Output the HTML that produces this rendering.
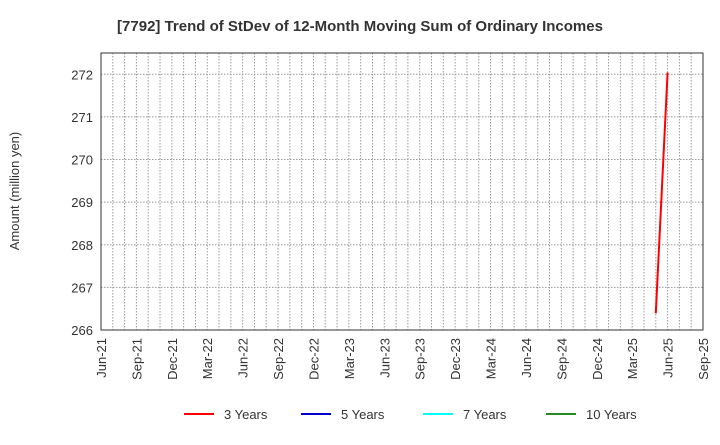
<!DOCTYPE html>
<html><head><meta charset="utf-8"><style>
body{margin:0;background:#fff;font-family:"Liberation Sans",Arial,sans-serif}
</style></head><body>
<svg width="720" height="440" xmlns="http://www.w3.org/2000/svg">
<text x="360" y="31" text-anchor="middle" font-size="15" font-weight="bold" fill="#333">[7792]  Trend of StDev of 12-Month Moving Sum of Ordinary Incomes</text>
<text transform="translate(19,191) rotate(-90)" text-anchor="middle" font-size="13" fill="#333">Amount (million yen)</text>
<g id="grid"></g>
<g id="axes"></g>
<g id="series"></g>
<rect x="101" y="53" width="602" height="277" fill="none" stroke="#333" stroke-width="1"/>
<g id="legend"></g>
</svg>
<script>
const xTickLabels=["Jun-21","Sep-21","Dec-21","Mar-22","Jun-22","Sep-22","Dec-22","Mar-23","Jun-23","Sep-23","Dec-23","Mar-24","Jun-24","Sep-24","Dec-24","Mar-25","Jun-25","Sep-25"];
const yTicks=[266,267,268,269,270,271,272];
const seriesNames=["3 Years","5 Years","7 Years","10 Years"];
const seriesColors=["#ff0000","#0000cc","#00ffff","#228b22"];
const months3y=[47,48]; // months since Jun-21
const values3y=[266.39,272.04];
const NS="http://www.w3.org/2000/svg";
const L=101,R=703,T=53,B=330,yMin=266,yMax=272.5,nMonths=51;
const xs=m=>L+(R-L)*m/nMonths;
const ys=v=>B-(B-T)*(v-yMin)/(yMax-yMin);
function mk(tag,attrs,parent){const e=document.createElementNS(NS,tag);for(const k in attrs)e.setAttribute(k,attrs[k]);parent.appendChild(e);return e;}
const grid=document.getElementById('grid'),axes=document.getElementById('axes');
for(let m=1;m<nMonths;m++){
 const l=mk('line',{x1:xs(m),x2:xs(m),y1:T,y2:B,stroke:'#999','stroke-dasharray':'1.5,1.5','stroke-width':1},grid);
 
 
}
yTicks.forEach(v=>{
 const l=mk('line',{x1:L,x2:R,y1:ys(v),y2:ys(v),stroke:'#999','stroke-dasharray':'1.5,1.5','stroke-width':1},grid);
 
 
 const t=mk('text',{x:L-8,y:ys(v)+5,'text-anchor':'end','font-size':13,fill:'#333'},axes);
 t.textContent=v;
 
 
});
xTickLabels.forEach((s,i)=>{
 const x=xs(i*3);
 const t=mk('text',{transform:`translate(${x+5},338) rotate(-90)`,'text-anchor':'end','font-size':13,fill:'#333'},axes);
 t.textContent=s;
 
 
});
const pts=months3y.map((m,i)=>xs(m)+','+ys(values3y[i])).join(' ');
const pl=mk('polyline',{points:pts,fill:'none',stroke:seriesColors[0],'stroke-width':2},document.getElementById('series'));


const lg=document.getElementById('legend');
const lx=[184,301,423,546];
seriesNames.forEach((n,i)=>{
 const g=mk('g',{},lg);
 
 
 mk('line',{x1:lx[i],x2:lx[i]+30,y1:414,y2:414,stroke:seriesColors[i],'stroke-width':2},g);
 const t=mk('text',{x:lx[i]+40,y:419,'font-size':13,fill:'#333'},g);
 t.textContent=n;
});
</script>
</body></html>
